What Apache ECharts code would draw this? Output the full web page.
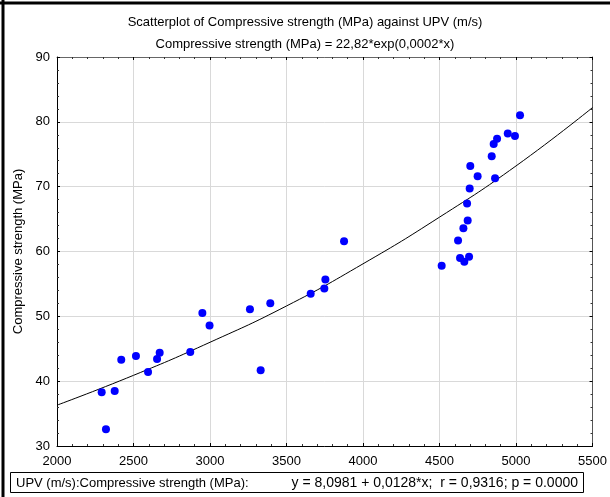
<!DOCTYPE html>
<html>
<head>
<meta charset="utf-8">
<script src="https://cdn.jsdelivr.net/npm/echarts@6/dist/echarts.min.js"></script>
<style>
html,body{margin:0;padding:0;background:#fff;}
#c{width:610px;height:497px;}
</style>
</head>
<body>
<div id="c"></div>
<script>
// UPV (m/s) and compressive strength (MPa)
var upv = [2292, 2320, 2377, 2420, 2516, 2595, 2654, 2671, 2871, 2950, 2997, 3261, 3331, 3394, 3658, 3747, 3754, 3876,
           4514, 4621, 4634, 4656, 4662, 4680, 4684, 4693, 4697, 4701, 4749, 4841, 4854, 4863, 4876, 4946, 4993, 5026];
var strength = [38.3, 32.6, 38.5, 43.3, 43.9, 41.4, 43.4, 44.4, 44.5, 50.5, 48.6, 51.1, 41.7, 52.0, 53.5, 54.3, 55.7, 61.6,
                57.8, 61.7, 59.0, 63.6, 58.4, 67.4, 64.8, 59.2, 69.7, 73.2, 71.6, 74.7, 76.6, 71.3, 77.4, 78.2, 77.8, 81.0];
// fitted curve
var fitX = [2000, 2500, 3000, 3500, 4000, 4500, 5000, 5500];
var fitY = [36.3, 40.9, 46.0, 51.6, 58.1, 65.3, 73.2, 82.2];
var xTicks = [2000, 2500, 3000, 3500, 4000, 4500, 5000, 5500];
var yTicks = [30, 40, 50, 60, 70, 80, 90];

var titleText = 'Scatterplot of Compressive strength (MPa) against UPV (m/s)';
var subText = 'Compressive strength (MPa) = 22,82*exp(0,0002*x)';
var boxLeft = 'UPV (m/s):Compressive strength (MPa):';
var boxRight = 'y = 8,0981 + 0,0128*x;  r = 0,9316; p = 0.0000';

var font = 'Arial, "Liberation Sans", sans-serif';
var chart = echarts.init(document.getElementById('c'), null, {renderer: 'canvas'});

var pts = upv.map(function (x, i) { return [x, strength[i]]; });
var fit = fitX.map(function (x, i) { return [x, fitY[i]]; });

function axisCommon(show) {
  return {
    axisLine: {show: true, onZero: false, lineStyle: {color: '#000', width: 1}},
    axisTick: {show: true, inside: true, length: 3, lineStyle: {color: '#000'}},
    minorTick: {show: true, splitNumber: 5, length: 2, lineStyle: {color: '#333'}},
    axisLabel: {show: show, color: '#000', fontFamily: font, fontSize: 13,
                formatter: function (v) { return String(v); }},
    splitLine: {show: false}
  };
}

var xMain = Object.assign(axisCommon(true), {
  type: 'value', min: xTicks[0], max: xTicks[xTicks.length - 1], interval: 500, position: 'bottom'
});
xMain.splitLine = {show: true, lineStyle: {color: '#d9d9d9', width: 1}};
xMain.axisLabel.margin = 9;
var xTop = Object.assign(axisCommon(false), {
  type: 'value', min: xTicks[0], max: xTicks[xTicks.length - 1], interval: 500, position: 'top'
});
xTop.axisLine.lineStyle.color = '#666';

var yMain = Object.assign(axisCommon(true), {
  type: 'value', min: yTicks[0], max: yTicks[yTicks.length - 1], interval: 10, position: 'left',
  name: 'Compressive strength (MPa)', nameLocation: 'middle', nameGap: 29,
  nameTextStyle: {color: '#000', fontFamily: font, fontSize: 13}
});
yMain.splitLine = {show: true, lineStyle: {color: '#d9d9d9', width: 1}};
yMain.axisLabel.margin = 7;
var yRight = Object.assign(axisCommon(false), {
  type: 'value', min: yTicks[0], max: yTicks[yTicks.length - 1], interval: 10, position: 'right'
});
yRight.axisLine.lineStyle.color = '#555';

chart.setOption({
  animation: false,
  backgroundColor: '#fff',
  title: [
    {text: titleText, left: 'center', top: 11,
     textStyle: {fontFamily: font, fontSize: 13, fontWeight: 'normal', color: '#000'}},
    {text: subText, left: 'center', top: 33,
     textStyle: {fontFamily: font, fontSize: 13, fontWeight: 'normal', color: '#000'}}
  ],
  grid: {left: 57, right: 17, top: 57, bottom: 51, containLabel: false},
  xAxis: [xMain, xTop],
  yAxis: [yMain, yRight],
  graphic: [
    {type: 'line', shape: {x1: 0, y1: 3, x2: 610, y2: 3}, style: {stroke: '#000', lineWidth: 3}},
    {type: 'line', shape: {x1: 3, y1: 0, x2: 3, y2: 497}, style: {stroke: '#000', lineWidth: 3}},
    {type: 'rect', shape: {x: 10.5, y: 472.5, width: 573, height: 20},
     style: {fill: '#fff', stroke: '#000', lineWidth: 1}},
    {type: 'text', x: 16, y: 483, style: {text: boxLeft, font: '13px ' + font, fill: '#000', verticalAlign: 'middle'}},
    {type: 'text', x: 578, y: 483, style: {text: boxRight, font: '14px ' + font, fill: '#000',
      align: 'right', verticalAlign: 'middle'}}
  ],
  series: [
    {type: 'line', data: fit, smooth: true, showSymbol: false, symbol: 'none',
     lineStyle: {color: '#000', width: 1}, xAxisIndex: 0, yAxisIndex: 0, z: 2},
    {type: 'scatter', data: pts, symbol: 'circle', symbolSize: 8,
     itemStyle: {color: '#0000ff', opacity: 1}, xAxisIndex: 0, yAxisIndex: 0, z: 3}
  ]
});
</script>
</body>
</html>
